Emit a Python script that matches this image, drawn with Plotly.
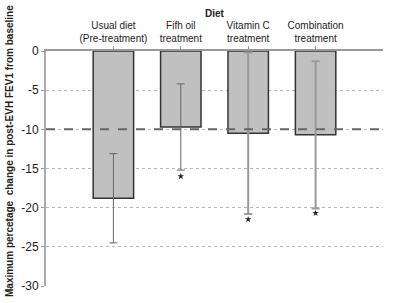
import plotly.graph_objects as go

categories = ["Usual diet<br>(Pre-treatment)", "Fifh oil<br>treatment", "Vitamin C<br>treatment", "Combination<br>treatment"]
means = [-18.8, -9.7, -10.5, -10.7]
errors = [5.7, 5.5, 10.3, 9.4]
star_y = [None, -16.0, -21.5, -20.7]
y_ticks = [0, -5, -10, -15, -20, -25, -30]
ref_line = -10

xs = list(range(len(categories)))
fig = go.Figure()
fig.add_trace(go.Bar(x=xs, y=means, width=0.6, marker=dict(color="#c0c0c0", line=dict(color="#333333", width=1.5)), showlegend=False))
fig.add_trace(go.Scatter(x=xs[:2], y=means[:2], mode="markers", marker=dict(size=0.1, color="rgba(0,0,0,0)"),
                         error_y=dict(type="data", array=errors[:2], color="#666666", thickness=1, width=4), showlegend=False))
fig.add_trace(go.Scatter(x=xs[2:], y=means[2:], mode="markers", marker=dict(size=0.1, color="rgba(0,0,0,0)"),
                         error_y=dict(type="data", array=errors[2:], color="#999999", thickness=2, width=4), showlegend=False))
sx = [x for x, s in zip(xs, star_y) if s is not None]
sy = [s for s in star_y if s is not None]
fig.add_trace(go.Scatter(x=sx, y=sy, mode="markers", marker=dict(symbol="star", size=5, color="#222233"), showlegend=False))

fig.add_shape(type="line", xref="paper", x0=0, x1=1, yref="y", y0=ref_line, y1=ref_line,
              line=dict(color="#666666", width=2, dash="dash"))

fig.update_layout(
    width=400, height=303,
    margin=dict(l=46, r=17, t=51, b=17),
    paper_bgcolor="white", plot_bgcolor="white",
    font=dict(family="Liberation Sans, Arial", color="#222222"),
    xaxis=dict(side="top", range=[-1, 4], tickmode="array", tickvals=xs, ticktext=categories,
               tickfont=dict(size=10), ticks="outside", ticklen=3, tickcolor="#999999", automargin=False,
               showline=True, linecolor="#999999", linewidth=2, showgrid=False, zeroline=False),
    yaxis=dict(range=[-30, 0], tickmode="array", tickvals=y_ticks, ticktext=[str(v) for v in y_ticks],
               tickfont=dict(size=12), ticks="outside", ticklen=3, tickcolor="#999999", automargin=False,
               showline=True, linecolor="#aaaaaa", linewidth=2, mirror=False,
               showgrid=True, gridcolor="#b8b8b8", gridwidth=1, griddash="dot", zeroline=False),
    annotations=[
        dict(text="<b>Diet</b>", xref="paper", yref="paper", x=(215-46)/337, y=1 + (51-13)/235,
             xanchor="center", yanchor="middle", showarrow=False, font=dict(size=10)),
        dict(text="<b>Maximum percetage  change in post-EVH FEV1 from baseline</b>", textangle=-90,
             xref="paper", yref="paper", x=(9-46)/337, y=(286-151)/235, xanchor="center", yanchor="middle",
             showarrow=False, font=dict(size=10)),
    ],
)
fig.write_html("out.html", config={"displayModeBar": False}, post_script="document.body.style.margin='0';")
